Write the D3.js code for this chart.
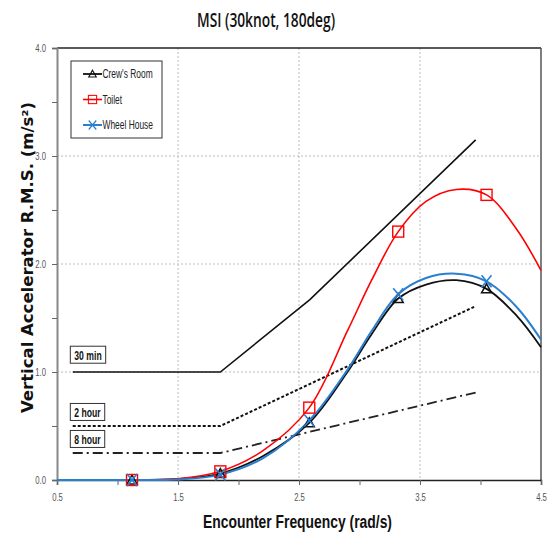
<!DOCTYPE html>
<html>
<head>
<meta charset="utf-8">
<script src="https://cdn.jsdelivr.net/npm/d3@7"></script>
<style>
  body { margin: 0; background: #fff; }
  text { font-family: "Liberation Sans", Arial, sans-serif; }
</style>
</head>
<body>
<div id="container"></div>
<script>
// values
const xTicks = [0.5, 1.5, 2.5, 3.5, 4.5],
      xMinor = [1.0, 2.0, 3.0, 4.0],
      yTicks = [0.0, 1.0, 2.0, 3.0, 4.0],
      yMinor = [0.5, 1.5, 2.5, 3.5];

const markerFreq    = [1.12, 1.85, 2.585, 3.32, 4.05],
      crewMarkers   = [0.0, 0.06, 0.53, 1.68, 1.77],
      toiletMarkers = [0.0, 0.08, 0.67, 2.30, 2.64],
      wheelMarkers  = [0.0, 0.05, 0.55, 1.72, 1.84];

const curveFreq   = [0.5, 1.0, 1.5, 1.85, 2.2, 2.585, 2.9, 3.1, 3.32, 3.55, 3.8, 4.05, 4.3, 4.5],
      crewCurve   = [0, 0, 0.01, 0.06, 0.22, 0.53, 1.0, 1.35, 1.68, 1.81, 1.85, 1.77, 1.52, 1.23],
      toiletCurve = [0, 0, 0.01, 0.08, 0.27, 0.67, 1.38, 1.85, 2.30, 2.58, 2.69, 2.64, 2.32, 1.94],
      wheelCurve  = [0, 0, 0.005, 0.05, 0.2, 0.55, 1.02, 1.38, 1.72, 1.87, 1.91, 1.84, 1.60, 1.30];

const limit30Freq = [0.63, 1.85, 2.59, 3.96],
      limit30     = [1.0, 1.0, 1.67, 3.15],
      limit2hFreq = [0.63, 1.85, 3.96],
      limit2h     = [0.5, 0.5, 1.61],
      limit8hFreq = [0.63, 1.85, 3.96],
      limit8h     = [0.25, 0.25, 0.81];

const limitLabels = ["30 min", "2 hour", "8 hour"];
const seriesNames = ["Crew's Room", "Toilet", "Wheel House"];

const WIDTH = 553, HEIGHT = 535;
const margin = { top: 48, bottom: 55, left: 57, right: 12 };
const width = WIDTH - margin.left - margin.right,
      height = HEIGHT - margin.top - margin.bottom;

// squeeze text horizontally, no narrow font installed
const narrow = (sel, k) => sel.each(function () {
    const w = this.getComputedTextLength();
    d3.select(this).attr("textLength", w * k).attr("lengthAdjust", "spacingAndGlyphs");
});

const svg = d3.select("#container").append("svg")
    .attr("width", WIDTH).attr("height", HEIGHT);

const g = svg.append("g").attr("transform", `translate(${margin.left},${margin.top})`);

const xScale = d3.scaleLinear().domain([0.5, 4.5]).range([0, width]);
const yScale = d3.scaleLinear().domain([0, 4]).range([height, 0]);

// grid
g.append("g").selectAll("line").data([1.5, 2.5, 3.5]).join("line")
    .attr("x1", d => xScale(d)).attr("x2", d => xScale(d))
    .attr("y1", 0).attr("y2", height)
    .attr("stroke", "#bbb").attr("stroke-dasharray", "2,2");
g.append("g").selectAll("line").data([1, 2, 3]).join("line")
    .attr("x1", 0).attr("x2", width)
    .attr("y1", d => yScale(d)).attr("y2", d => yScale(d))
    .attr("stroke", "#bbb").attr("stroke-dasharray", "2,2");

// frame
g.append("line").attr("x1", 0).attr("x2", width).attr("y1", 0).attr("y2", 0)
    .attr("stroke", "#222").attr("stroke-width", 1.5);
g.append("line").attr("x1", width).attr("x2", width).attr("y1", 0).attr("y2", height)
    .attr("stroke", "#555").attr("stroke-width", 1.5);

// axes
const xAxis = g.append("g").attr("transform", `translate(0,${height})`)
    .call(d3.axisBottom(xScale).tickValues(xTicks).tickFormat(d3.format(".1f")).tickSize(5).tickPadding(8));
g.append("g").attr("transform", `translate(0,${height})`)
    .call(d3.axisBottom(xScale).tickValues(xMinor).tickFormat("").tickSize(5))
    .select(".domain").remove();
xAxis.select(".domain").attr("stroke", "#222").attr("stroke-width", 1.5);

const yAxis = g.append("g")
    .call(d3.axisLeft(yScale).tickValues(yTicks).tickFormat(d3.format(".1f")).tickSize(5).tickPadding(6));
g.append("g")
    .call(d3.axisLeft(yScale).tickValues(yMinor).tickFormat("").tickSize(5))
    .select(".domain").remove();
yAxis.select(".domain").attr("stroke", "#888").attr("stroke-width", 2);

svg.selectAll(".tick text").attr("fill", "#555").style("font-size", "11px")
    .style("font-family", "'Liberation Sans', Arial, sans-serif").call(narrow, 0.7);
svg.selectAll(".tick line").attr("stroke", "#666");

// limit lines
const line = d3.line().x(d => xScale(d[0])).y(d => yScale(d[1]));
const zip = (xs, ys) => xs.map((x, i) => [x, ys[i]]);

g.append("path").datum(zip(limit30Freq, limit30)).attr("d", line)
    .attr("fill", "none").attr("stroke", "#111").attr("stroke-width", 1.6);
g.append("path").datum(zip(limit2hFreq, limit2h)).attr("d", line)
    .attr("fill", "none").attr("stroke", "#111").attr("stroke-width", 2)
    .attr("stroke-dasharray", "3,2");
g.append("path").datum(zip(limit8hFreq, limit8h)).attr("d", line)
    .attr("fill", "none").attr("stroke", "#222").attr("stroke-width", 1.8)
    .attr("stroke-dasharray", "10,4,2,4");

// limit labels
const labelY = [1.16, 0.63, 0.38];
limitLabels.forEach((t, i) => {
    const lg = g.append("g")
        .attr("transform", `translate(${xScale(0.61)},${yScale(labelY[i])})`);
    const txt = lg.append("text").attr("x", 4).attr("y", 5)
        .style("font-size", "13.5px").style("font-weight", "bold").attr("fill", "#111")
        .text(t).call(narrow, 0.64);
    const w = +txt.attr("textLength");
    lg.insert("rect", "text").attr("x", 0).attr("y", -8.5).attr("width", w + 8).attr("height", 17)
        .attr("fill", "#fff").attr("stroke", "#333").attr("stroke-width", 1);
});

// series
const smooth = d3.line().curve(d3.curveCatmullRom.alpha(0.5))
    .x(d => xScale(d[0])).y(d => yScale(d[1]));

const series = [
    { name: seriesNames[0], curve: crewCurve, markers: crewMarkers, color: "#111", width: 1.8, shape: "tri" },
    { name: seriesNames[1], curve: toiletCurve, markers: toiletMarkers, color: "#ff0000", width: 1.6, shape: "sq" },
    { name: seriesNames[2], curve: wheelCurve, markers: wheelMarkers, color: "#2a7fcf", width: 2, shape: "x" }
];

const drawMarker = (sel, shape, color) => {
    if (shape === "tri") {
        sel.append("path").attr("d", "M0,-5L5,4L-5,4Z")
            .attr("fill", "none").attr("stroke", color).attr("stroke-width", 1.5);
    } else if (shape === "sq") {
        sel.append("rect").attr("x", -5.5).attr("y", -5.5).attr("width", 11).attr("height", 11)
            .attr("fill", "none").attr("stroke", color).attr("stroke-width", 1.4);
    } else {
        sel.append("path").attr("d", "M-5,-6L5,6M5,-6L-5,6")
            .attr("fill", "none").attr("stroke", color).attr("stroke-width", 1.6);
    }
};

series.forEach(s => {
    g.append("path").datum(zip(curveFreq, s.curve)).attr("d", smooth)
        .attr("fill", "none").attr("stroke", s.color).attr("stroke-width", s.width);
});
series.forEach(s => {
    markerFreq.forEach((f, i) => {
        const m = g.append("g").attr("transform", `translate(${xScale(f)},${yScale(s.markers[i])})`);
        drawMarker(m, s.shape, s.color);
    });
});

// legend
const legend = svg.append("g").attr("transform", "translate(71,61)");
legend.append("rect").attr("width", 91).attr("height", 77)
    .attr("fill", "#fff").attr("stroke", "#333").attr("stroke-width", 1);
series.forEach((s, i) => {
    const row = legend.append("g").attr("transform", `translate(0,${13 + i * 25.5})`);
    row.append("line").attr("x1", 12).attr("x2", 31).attr("stroke", s.color).attr("stroke-width", s.width);
    drawMarker(row.append("g").attr("transform", "translate(21.5,0) scale(0.75)"), s.shape, s.color);
    row.append("text").attr("x", 31.5).attr("y", 4).style("font-size", "12px").attr("fill", "#222")
        .text(s.name).call(narrow, 0.7);
});

// titles
svg.append("text").attr("x", 266).attr("y", 27).attr("text-anchor", "middle")
    .style("font-family", "'Open Sans', 'Liberation Sans', sans-serif")
    .style("font-size", "19px").style("font-weight", 600).attr("fill", "#111")
    .text("MSI (30knot, 180deg)").attr("textLength", 138).attr("lengthAdjust", "spacingAndGlyphs");

svg.append("text").attr("x", 297.5).attr("y", 528).attr("text-anchor", "middle")
    .style("font-size", "18px").style("font-weight", "bold").attr("fill", "#111")
    .text("Encounter Frequency (rad/s)").attr("textLength", 189).attr("lengthAdjust", "spacingAndGlyphs");

svg.append("text").attr("transform", "translate(33,257.5) rotate(-90)").attr("text-anchor", "middle")
    .style("font-family", "'DejaVu Sans', Verdana, sans-serif")
    .style("font-size", "16px").style("font-weight", "bold").attr("fill", "#111")
    .text("Vertical Accelerator R.M.S. (m/s²)")
    .attr("textLength", 311).attr("lengthAdjust", "spacingAndGlyphs");
</script>
</body>
</html>
